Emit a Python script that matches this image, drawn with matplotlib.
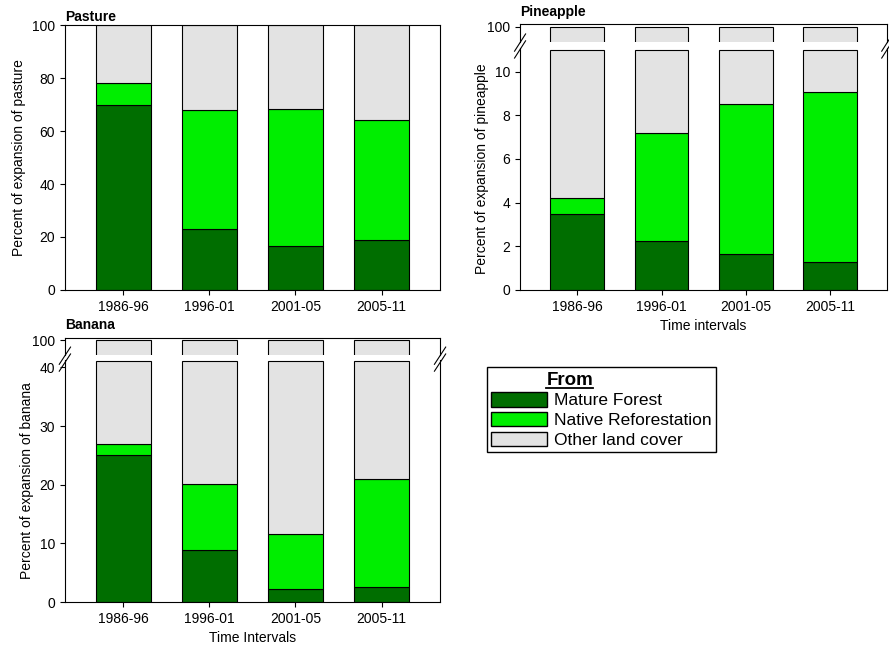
import matplotlib.pyplot as plt
import numpy as np
from matplotlib.patches import Patch
from matplotlib.lines import Line2D

plt.rcParams['font.family'] = ['Liberation Sans', 'DejaVu Sans']
plt.rcParams['font.size'] = 10

intervals = ['1986-96', '1996-01', '2001-05', '2005-11']
pasture_mf = [70, 23, 16.5, 19]
pasture_nr = [8, 45, 52, 45]
pine_mf = [3.5, 2.25, 1.65, 1.3]
pine_nr = [0.7, 4.95, 6.85, 7.75]
banana_mf = [25, 8.8, 2.3, 2.5]
banana_nr = [2, 11.4, 9.3, 18.4]

c_mf = '#006e00'
c_nr = '#00ee00'
c_oth = '#e3e3e3'
w = 0.64
x = np.arange(4)

fig = plt.figure(figsize=(8.89, 6.62), dpi=100)


def stack(ax, mf, nr, top):
    mf = np.array(mf); nr = np.array(nr)
    ax.bar(x, mf, w, color=c_mf, edgecolor='black', linewidth=0.8)
    ax.bar(x, nr, w, bottom=mf, color=c_nr, edgecolor='black', linewidth=0.8)
    ax.bar(x, top - mf - nr, w, bottom=mf + nr, color=c_oth, edgecolor='black', linewidth=0.8)
    ax.set_xlim(-0.68, 3.68)
    ax.set_xticks(x)
    ax.set_xticklabels(intervals)


def broken_top(rect, bottom_ax):
    ta = fig.add_axes(rect)
    ta.bar(x, [5] * 4, w, bottom=95, color=c_oth, edgecolor='black', linewidth=0.8)
    ta.set_xlim(-0.68, 3.68)
    ta.set_ylim(98.8, 100.2)
    ta.set_yticks([100])
    ta.set_xticks([])
    ta.spines['bottom'].set_visible(False)
    bottom_ax.spines['top'].set_visible(False)
    for xx in (0, 1):
        for yy in (-0.05, -0.45):
            ta.plot([xx - 0.015, xx + 0.015], [yy - 0.5, yy + 0.5], transform=ta.transAxes,
                    color='black', lw=0.8, clip_on=False)
    return ta


# Pasture
ax1 = fig.add_axes([0.073, 0.562, 0.422, 0.40])
stack(ax1, pasture_mf, pasture_nr, 100)
ax1.set_ylim(0, 100)
ax1.set_ylabel('Percent of expansion of pasture')
ax1.text(0, 1.005, 'Pasture', transform=ax1.transAxes, fontweight='bold', va='bottom')

# Pineapple
ax2 = fig.add_axes([0.585, 0.562, 0.413, 0.366])
stack(ax2, pine_mf, pine_nr, 11)
ax2.set_ylim(0, 11.1)
ax2.set_yticks([0, 2, 4, 6, 8, 10])
ax2.set_ylabel('Percent of expansion of pineapple')
ax2.set_xlabel('Time intervals')
t2 = broken_top([0.585, 0.937, 0.413, 0.026], ax2)
t2.text(0, 1.3, 'Pineapple', transform=t2.transAxes, fontweight='bold', va='bottom')

# Banana
ax3 = fig.add_axes([0.073, 0.0906, 0.422, 0.366])
stack(ax3, banana_mf, banana_nr, 41)
ax3.set_ylim(0, 41.3)
ax3.set_yticks([0, 10, 20, 30, 40])
ax3.set_ylabel('Percent of expansion of banana')
ax3.set_xlabel('Time Intervals')
t3 = broken_top([0.073, 0.464, 0.422, 0.026], ax3)
t3.text(0, 1.3, 'Banana', transform=t3.transAxes, fontweight='bold', va='bottom')

# Legend
handles = [Patch(facecolor=c, edgecolor='black') for c in (c_mf, c_nr, c_oth)]
leg = fig.legend(handles, ['Mature Forest', 'Native Reforestation', 'Other land cover'],
                 loc='upper left', bbox_to_anchor=(0.538, 0.458), fontsize=12.5,
                 title='From', fancybox=False, edgecolor='black', framealpha=1,
                 handlelength=3.2, handleheight=0.9, borderpad=0.25, labelspacing=0.2,
                 handletextpad=0.4)
leg.get_title().set_fontweight('bold')
leg.get_title().set_fontsize(13.5)
leg._legend_box.align = 'left'
leg.get_title().set_position((55, 0))

# underline legend title
fig.canvas.draw()
bb = leg.get_title().get_window_extent().transformed(fig.transFigure.inverted())
fig.add_artist(Line2D([bb.x0, bb.x1], [bb.y0 + 0.001, bb.y0 + 0.001], color='black', lw=1.3,
                      zorder=20))

fig.savefig('out.png', dpi=100)
